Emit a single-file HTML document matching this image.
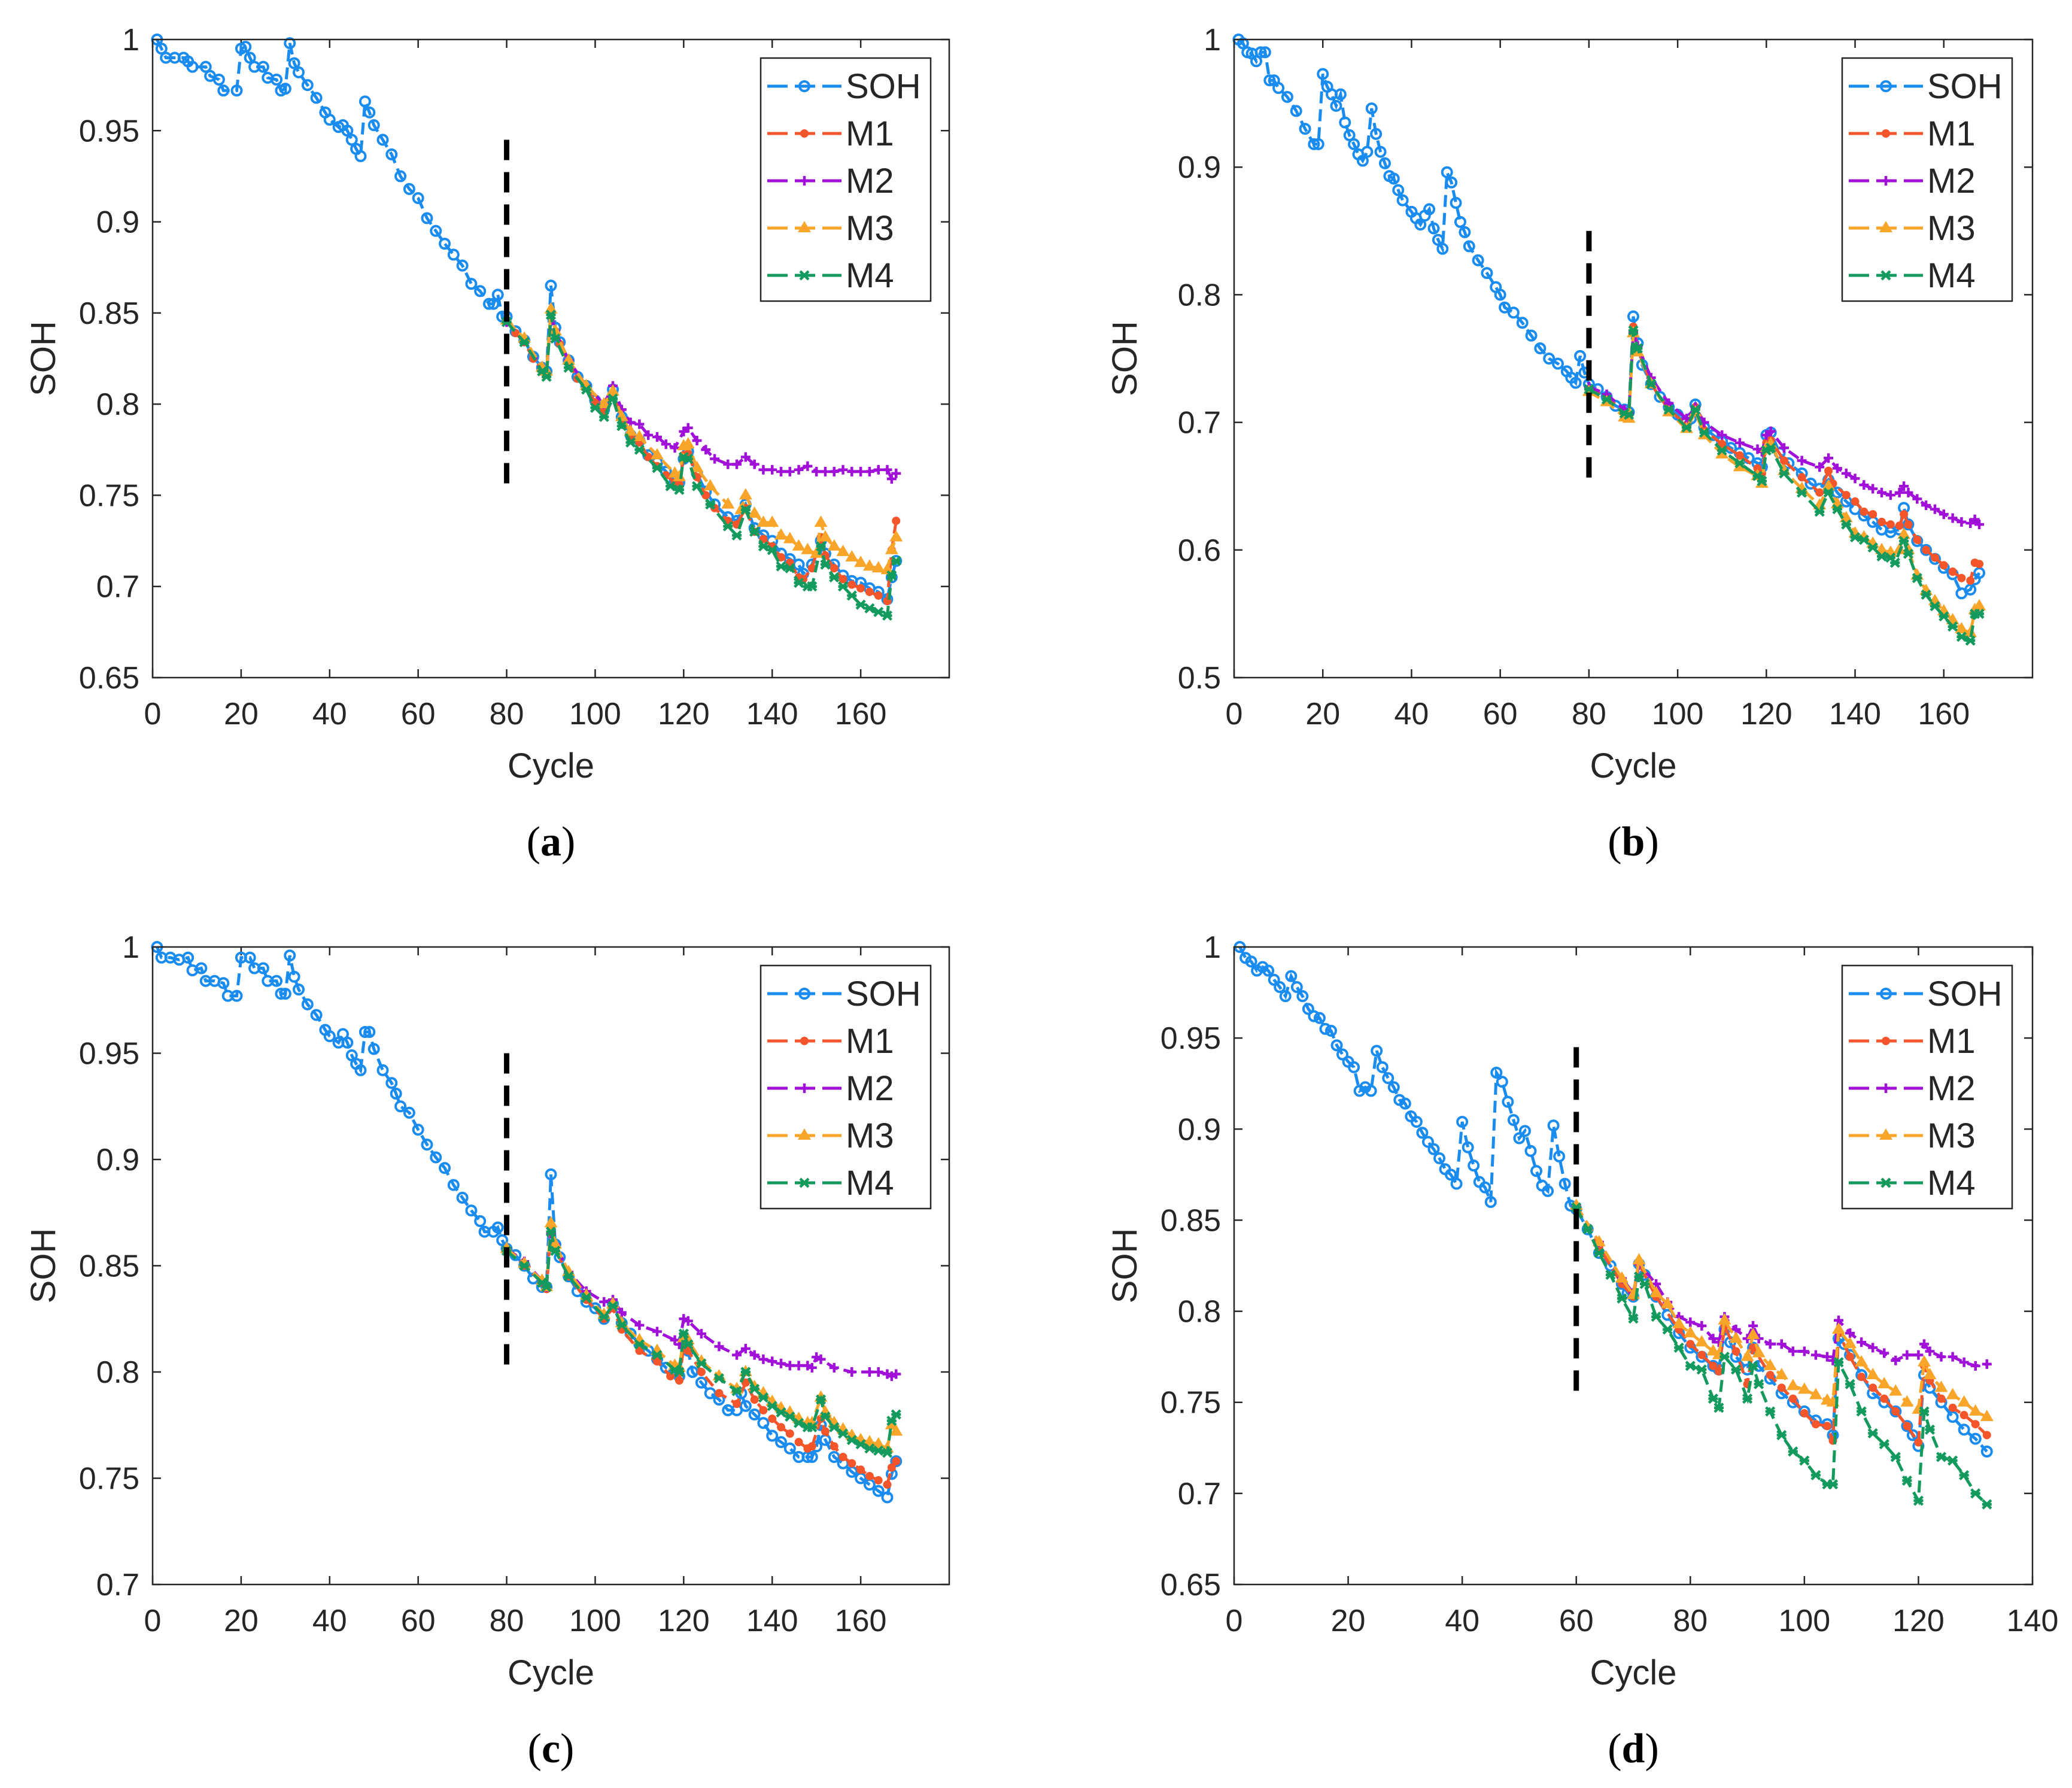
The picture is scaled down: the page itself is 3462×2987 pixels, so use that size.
<!DOCTYPE html>
<html><head><meta charset="utf-8"><style>
html,body{margin:0;padding:0;background:#fff;}
svg{display:block;}
text{font-family:"Liberation Sans",sans-serif;fill:#262626;}
text.cap{font-family:"Liberation Serif",serif;fill:#000;}
</style></head><body>
<svg id="fig" xmlns="http://www.w3.org/2000/svg" width="3462" height="2987" viewBox="0 0 3462 2987"></svg>
<script>
// ---- Panel (a) data ----
const aSOH=[[1,1.0],[2,.995],[3,.99],[5,.99],[7,.99],[8,.988],[9,.985],[12,.985],[13,.98],[15,.978],[16,.972],[19,.972],[20,.995],[21,.996],[22,.99],[23,.985],[25,.985],[26,.979],[28,.978],[29,.972],[30,.973],[31,.998],[32,.987],[33,.982],[35,.975],[37,.968],[39,.96],[40,.956],[42,.952],[43,.953],[44,.95],[45,.945],[46,.94],[47,.936],[48,.966],[49,.96],[50,.953],[52,.945],[54,.937],[56,.925],[58,.918],[60,.913],[62,.902],[64,.895],[66,.888],[68,.882],[70,.876],[72,.866],[74,.862],[76,.855],[77,.855],[78,.86],[79,.848],[80,.848],[82,.84],[84,.835],[86,.826],[88,.82],[89,.818],[90,.865],[91,.842],[92,.834],[94,.824],[96,.815],[98,.81],[100,.802],[102,.797],[104,.808],[106,.793],[108,.783],[110,.78],[112,.772],[114,.768],[116,.763],[118,.758],[119,.757],[120,.77],[121,.774],[123,.762],[125,.752],[127,.745],[130,.738],[132,.736],[134,.745],[136,.732],[138,.728],[140,.725],[142,.718],[144,.715],[146,.712],[147,.707],[149,.712],[151,.725],[152,.718],[154,.712],[156,.706],[158,.703],[160,.702],[162,.699],[164,.697],[166,.693],[167,.705],[168,.714]];
const aM1=[[80,.846],[82,.839],[84,.834],[86,.825],[88,.819],[89,.817],[90,.85],[91,.84],[92,.833],[94,.823],[96,.814],[98,.809],[100,.801],[102,.796],[104,.806],[106,.792],[108,.782],[110,.779],[112,.771],[114,.766],[116,.761],[118,.757],[119,.756],[120,.772],[121,.773],[123,.76],[125,.75],[127,.743],[130,.736],[132,.734],[134,.743],[136,.73],[138,.726],[140,.722],[142,.716],[144,.713],[146,.705],[147,.704],[149,.71],[151,.727],[152,.717],[154,.71],[156,.704],[158,.701],[160,.699],[162,.697],[164,.695],[166,.692],[167,.72],[168,.736]];
const aM2=[[80,.845],[84,.835],[88,.82],[89,.817],[90,.85],[91,.84],[94,.824],[98,.81],[102,.8],[104,.81],[106,.797],[108,.79],[110,.789],[112,.783],[114,.782],[116,.778],[118,.776],[120,.785],[121,.787],[123,.78],[125,.775],[127,.77],[130,.767],[132,.767],[134,.771],[136,.767],[138,.764],[140,.764],[142,.763],[144,.763],[146,.764],[148,.766],[150,.763],[152,.763],[154,.763],[156,.764],[158,.763],[160,.763],[162,.763],[164,.764],[166,.764],[167,.759],[168,.762]];
const aM3=[[80,.846],[84,.836],[88,.82],[89,.818],[90,.852],[91,.84],[94,.824],[98,.81],[102,.8],[104,.807],[106,.793],[108,.785],[110,.782],[114,.772],[118,.762],[119,.76],[120,.777],[121,.778],[123,.765],[126,.755],[130,.745],[133,.742],[134,.75],[136,.74],[138,.735],[140,.735],[142,.728],[144,.726],[146,.722],[148,.72],[150,.718],[151,.735],[152,.727],[154,.722],[156,.719],[158,.716],[160,.713],[162,.711],[164,.71],[166,.709],[167,.72],[168,.727]];
const aM4=[[80,.845],[84,.834],[88,.818],[89,.815],[90,.849],[91,.836],[94,.82],[98,.808],[100,.798],[102,.793],[104,.803],[106,.788],[108,.779],[110,.775],[114,.765],[117,.755],[119,.753],[120,.771],[121,.77],[123,.755],[126,.745],[130,.733],[132,.728],[134,.742],[136,.73],[138,.722],[140,.72],[142,.711],[144,.71],[146,.702],[148,.7],[149,.7],[151,.722],[152,.712],[154,.705],[156,.7],[158,.695],[160,.69],[162,.688],[164,.686],[166,.684],[167,.706],[168,.714]];
// ---- Panel (b) data ----
const bSOH=[[1,1.0],[2,.997],[3,.99],[4,.989],[5,.983],[6,.99],[7,.99],[8,.968],[9,.968],[10,.962],[12,.955],[14,.944],[16,.93],[18,.918],[19,.918],[20,.973],[21,.963],[22,.957],[23,.948],[24,.957],[25,.935],[26,.925],[27,.918],[28,.91],[29,.905],[30,.912],[31,.946],[32,.926],[33,.912],[34,.903],[35,.893],[36,.891],[37,.882],[38,.874],[40,.865],[41,.86],[42,.855],[43,.862],[44,.867],[45,.852],[46,.843],[47,.836],[48,.896],[49,.888],[50,.872],[51,.857],[52,.849],[53,.838],[55,.827],[57,.817],[59,.806],[60,.8],[61,.79],[63,.786],[65,.778],[67,.768],[69,.758],[71,.75],[73,.746],[75,.74],[76,.735],[77,.731],[78,.752],[79,.739],[80,.73],[82,.726],[84,.72],[86,.713],[88,.71],[89,.708],[90,.783],[91,.762],[92,.745],[94,.73],[96,.72],[98,.712],[100,.706],[102,.7],[103,.703],[104,.714],[106,.696],[108,.69],[110,.685],[112,.68],[114,.676],[116,.672],[118,.668],[119,.665],[120,.69],[121,.692],[123,.676],[125,.668],[128,.66],[130,.652],[132,.648],[134,.655],[136,.645],[138,.638],[140,.632],[142,.627],[144,.622],[146,.616],[148,.614],[150,.616],[151,.633],[152,.62],[154,.607],[156,.6],[158,.593],[160,.586],[162,.581],[164,.566],[166,.569],[167,.577],[168,.582]];
const bM1=[[80,.726],[84,.72],[88,.708],[89,.706],[90,.775],[91,.758],[94,.73],[98,.71],[102,.698],[104,.712],[106,.694],[110,.683],[114,.674],[118,.664],[119,.66],[120,.684],[121,.686],[124,.67],[128,.657],[132,.645],[134,.662],[135,.652],[138,.643],[140,.638],[142,.63],[144,.628],[146,.622],[148,.62],[150,.619],[151,.628],[152,.62],[154,.608],[156,.6],[158,.594],[160,.588],[162,.583],[164,.578],[166,.576],[167,.59],[168,.589]];
const bM2=[[80,.728],[84,.722],[88,.71],[89,.708],[90,.77],[91,.76],[94,.735],[98,.715],[102,.703],[104,.712],[106,.7],[110,.69],[114,.684],[118,.679],[119,.677],[120,.69],[121,.693],[124,.68],[128,.67],[132,.665],[134,.672],[136,.664],[138,.66],[140,.656],[142,.651],[144,.648],[146,.645],[148,.643],[150,.645],[151,.65],[152,.645],[154,.64],[156,.635],[158,.632],[160,.628],[162,.625],[164,.622],[166,.621],[167,.624],[168,.62]];
const bM3=[[80,.724],[84,.716],[88,.704],[89,.703],[90,.77],[91,.755],[94,.73],[98,.708],[102,.695],[104,.708],[106,.69],[110,.675],[114,.665],[118,.658],[119,.652],[120,.68],[121,.683],[124,.662],[128,.648],[132,.635],[134,.65],[136,.636],[138,.625],[140,.613],[142,.61],[144,.605],[146,.6],[148,.598],[150,.6],[151,.612],[152,.6],[154,.58],[156,.568],[158,.56],[160,.552],[162,.545],[164,.538],[166,.535],[167,.553],[168,.556]];
const bM4=[[80,.726],[84,.718],[88,.707],[89,.706],[90,.772],[91,.758],[94,.73],[98,.71],[102,.696],[104,.71],[106,.692],[110,.678],[114,.668],[118,.658],[119,.654],[120,.678],[121,.68],[124,.66],[128,.645],[132,.63],[134,.645],[136,.632],[138,.62],[140,.61],[142,.608],[144,.602],[146,.595],[148,.594],[149,.59],[151,.607],[152,.597],[154,.578],[156,.565],[158,.556],[160,.548],[162,.54],[164,.532],[166,.529],[167,.55],[168,.55]];
// ---- Panel (c) data ----
const cSOH=[[1,1.0],[2,.995],[4,.995],[6,.994],[8,.995],[9,.989],[11,.99],[12,.984],[14,.984],[16,.983],[17,.977],[19,.977],[20,.995],[22,.995],[23,.99],[25,.99],[26,.984],[28,.984],[29,.978],[30,.978],[31,.996],[32,.986],[33,.98],[35,.973],[37,.968],[39,.961],[40,.958],[42,.955],[43,.959],[44,.955],[45,.949],[46,.945],[47,.942],[48,.96],[49,.96],[50,.952],[52,.942],[54,.936],[55,.931],[56,.925],[58,.922],[60,.914],[62,.907],[64,.901],[66,.896],[68,.888],[70,.882],[72,.876],[74,.871],[75,.866],[77,.866],[78,.868],[79,.862],[80,.858],[82,.855],[84,.85],[86,.844],[88,.84],[89,.84],[90,.893],[91,.86],[92,.854],[94,.845],[96,.838],[98,.833],[100,.83],[102,.825],[104,.832],[106,.823],[108,.818],[110,.813],[112,.81],[114,.806],[116,.802],[118,.8],[119,.798],[120,.815],[121,.81],[122,.8],[124,.795],[126,.79],[128,.787],[130,.782],[132,.782],[133,.79],[134,.784],[136,.78],[138,.776],[140,.77],[142,.767],[144,.764],[146,.76],[148,.76],[149,.76],[150,.765],[151,.775],[152,.768],[154,.76],[156,.757],[158,.753],[160,.75],[162,.747],[164,.744],[166,.741],[167,.752],[168,.758]];
const cM1=[[80,.858],[84,.85],[88,.842],[89,.839],[90,.868],[91,.858],[94,.845],[98,.834],[102,.825],[104,.83],[106,.82],[110,.81],[114,.805],[117,.798],[119,.796],[120,.812],[121,.81],[124,.8],[128,.79],[132,.785],[134,.795],[136,.787],[138,.782],[140,.778],[142,.774],[144,.771],[146,.767],[148,.764],[149,.765],[151,.778],[152,.772],[154,.765],[156,.76],[158,.757],[160,.754],[162,.751],[164,.749],[166,.747],[167,.755],[168,.758]];
const cM2=[[80,.858],[84,.852],[88,.843],[89,.84],[90,.865],[91,.86],[94,.847],[98,.838],[102,.833],[104,.834],[106,.828],[110,.822],[114,.819],[118,.815],[119,.813],[120,.825],[121,.824],[124,.818],[128,.812],[132,.808],[134,.811],[136,.808],[138,.806],[140,.805],[142,.804],[144,.803],[146,.803],[148,.803],[149,.802],[150,.807],[151,.806],[154,.802],[158,.8],[162,.8],[164,.8],[166,.799],[167,.798],[168,.799]];
const cM3=[[80,.858],[84,.851],[88,.843],[89,.84],[90,.87],[91,.86],[94,.847],[98,.836],[102,.827],[104,.832],[106,.823],[110,.815],[114,.81],[118,.803],[119,.802],[120,.816],[121,.815],[124,.805],[128,.798],[132,.792],[134,.8],[136,.793],[138,.79],[140,.786],[142,.783],[144,.781],[146,.778],[148,.776],[149,.776],[151,.788],[152,.781],[154,.776],[156,.773],[158,.77],[160,.768],[162,.767],[164,.766],[166,.764],[167,.775],[168,.772]];
const cM4=[[80,.857],[84,.85],[88,.842],[89,.84],[90,.866],[91,.857],[94,.845],[98,.835],[102,.826],[104,.831],[106,.822],[110,.813],[114,.808],[118,.801],[119,.8],[120,.818],[121,.813],[124,.804],[128,.797],[132,.791],[134,.8],[136,.792],[138,.788],[140,.784],[142,.781],[144,.779],[146,.776],[148,.774],[149,.774],[151,.787],[152,.779],[154,.774],[156,.771],[158,.768],[160,.766],[162,.764],[164,.763],[166,.762],[167,.777],[168,.78]];
// ---- Panel (d) data ----
const dSOH=[[1,1.0],[2,.994],[3,.992],[4,.987],[5,.989],[6,.987],[7,.982],[8,.978],[9,.973],[10,.984],[11,.978],[12,.973],[13,.966],[14,.962],[15,.961],[16,.955],[17,.954],[18,.946],[19,.941],[20,.937],[21,.934],[22,.921],[23,.923],[24,.921],[25,.943],[26,.934],[27,.928],[28,.923],[29,.916],[30,.914],[31,.907],[32,.904],[33,.898],[34,.893],[35,.889],[36,.884],[37,.878],[38,.875],[39,.87],[40,.904],[41,.89],[42,.88],[43,.871],[44,.868],[45,.86],[46,.931],[47,.926],[48,.915],[49,.905],[50,.895],[51,.899],[52,.888],[53,.877],[54,.869],[55,.866],[56,.902],[57,.885],[58,.87],[59,.858],[60,.856],[62,.845],[64,.832],[66,.825],[68,.815],[69,.81],[70,.808],[71,.826],[72,.82],[74,.808],[76,.798],[78,.788],[80,.78],[82,.775],[84,.77],[85,.768],[86,.79],[87,.783],[88,.775],[90,.768],[91,.78],[92,.77],[94,.763],[96,.755],[98,.75],[100,.745],[102,.74],[104,.738],[105,.732],[106,.785],[107,.782],[108,.776],[110,.765],[112,.755],[114,.75],[116,.745],[118,.737],[119,.732],[120,.726],[121,.765],[122,.758],[124,.75],[126,.742],[128,.735],[130,.73],[132,.723]];
const dM1=[[60,.857],[64,.835],[68,.815],[70,.808],[71,.826],[74,.808],[78,.79],[80,.782],[82,.776],[84,.77],[85,.767],[86,.792],[88,.778],[90,.76],[91,.78],[94,.765],[96,.758],[98,.752],[100,.744],[102,.738],[104,.737],[105,.729],[106,.788],[108,.775],[110,.764],[112,.758],[114,.752],[116,.745],[118,.737],[120,.728],[121,.77],[122,.762],[124,.752],[126,.747],[128,.743],[130,.738],[132,.732]];
const dM2=[[60,.858],[64,.838],[68,.818],[70,.81],[71,.826],[74,.815],[76,.805],[78,.797],[80,.794],[82,.792],[84,.785],[85,.783],[86,.797],[88,.79],[90,.785],[91,.792],[92,.785],[94,.782],[96,.782],[98,.778],[100,.778],[102,.776],[104,.775],[105,.773],[106,.795],[108,.788],[110,.783],[112,.78],[114,.777],[116,.773],[118,.776],[120,.776],[121,.782],[122,.778],[124,.775],[126,.775],[128,.772],[130,.77],[132,.771]];
const dM3=[[60,.858],[64,.838],[68,.818],[70,.809],[71,.828],[74,.81],[76,.804],[78,.793],[80,.788],[82,.783],[84,.778],[85,.776],[86,.795],[88,.785],[90,.775],[91,.787],[92,.777],[94,.77],[96,.765],[98,.759],[100,.757],[102,.754],[104,.751],[105,.75],[106,.79],[108,.782],[110,.772],[112,.765],[114,.76],[116,.756],[118,.75],[120,.746],[121,.772],[122,.765],[124,.758],[126,.754],[128,.75],[130,.745],[132,.742]];
const dM4=[[60,.857],[62,.845],[64,.832],[66,.82],[68,.807],[70,.796],[71,.819],[72,.815],[74,.797],[76,.79],[78,.78],[80,.77],[82,.768],[84,.752],[85,.747],[86,.775],[88,.768],[90,.752],[91,.77],[92,.76],[94,.745],[96,.732],[98,.723],[100,.718],[102,.71],[104,.705],[105,.705],[106,.772],[108,.76],[110,.745],[112,.733],[114,.727],[116,.72],[118,.707],[120,.696],[121,.745],[122,.735],[124,.72],[126,.718],[128,.71],[130,.7],[132,.694]];
// ---- Tick labels ----
const xTicks180=[0,20,40,60,80,100,120,140,160];
const xTicks140=[0,20,40,60,80,100,120,140];
const yTicksA=[0.65,0.7,0.75,0.8,0.85,0.9,0.95,1];
const yTicksB=[0.5,0.6,0.7,0.8,0.9,1];
const yTicksC=[0.7,0.75,0.8,0.85,0.9,0.95,1];
const seriesNames=["SOH","M1","M2","M3","M4"];

const NS="http://www.w3.org/2000/svg";
const svg=document.getElementById('fig');
function mk(tag,attrs,parent){const e=document.createElementNS(NS,tag);for(const k in attrs)e.setAttribute(k,attrs[k]);(parent||svg).appendChild(e);return e;}
const colors=["#1a8cf0","#f5552a","#a010d8","#f9a52a","#149a5c"];
const panels=[
 {id:'a',ox:255,oy:66,w:1331,h:1066,xmax:180,xt:xTicks180,ymin:.65,ymax:1,yt:yTicksA,vx:80,vy0:.945,vy1:.75,data:[aSOH,aM1,aM2,aM3,aM4]},
 {id:'b',ox:2062,oy:66,w:1334,h:1066,xmax:180,xt:xTicks180,ymin:.5,ymax:1,yt:yTicksB,vx:80,vy0:.85,vy1:.65,data:[bSOH,bM1,bM2,bM3,bM4]},
 {id:'c',ox:255,oy:1582,w:1331,h:1065,xmax:180,xt:xTicks180,ymin:.7,ymax:1,yt:yTicksC,vx:80,vy0:.95,vy1:.80,data:[cSOH,cM1,cM2,cM3,cM4]},
 {id:'d',ox:2062,oy:1582,w:1334,h:1065,xmax:140,xt:xTicks140,ymin:.65,ymax:1,yt:yTicksA,vx:60,vy0:.945,vy1:.75,data:[dSOH,dM1,dM2,dM3,dM4]}
];
function marker(g,k,x,y,c){
  let m;
  if(k===0){m=mk('circle',{cx:x,cy:y,r:8,fill:'none',stroke:c,'stroke-width':4},g);}
  else if(k===1){m=mk('circle',{cx:x,cy:y,r:7,fill:c},g);}
  else if(k===2){m=mk('path',{d:`M${x-8},${y}H${x+8}M${x},${y-8}V${y+8}`,stroke:c,'stroke-width':4.5,fill:'none'},g);}
  else if(k===3){m=mk('path',{d:`M${x},${y-12}L${x+11},${y+7}L${x-11},${y+7}Z`,fill:c},g);}
  else {m=mk('path',{d:`M${x-7},${y-7}L${x+7},${y+7}M${x+7},${y-7}L${x-7},${y+7}M${x-8},${y}H${x+8}`,stroke:c,'stroke-width':4.5,fill:'none'},g);}
  return m;
}
panels.forEach(p=>{
  const sx=v=>p.ox+v/p.xmax*p.w;
  const sy=v=>p.oy+p.h-(v-p.ymin)/(p.ymax-p.ymin)*p.h;
  const g=mk('g',{});
  
  
  mk('rect',{x:p.ox,y:p.oy,width:p.w,height:p.h,fill:'#fff'},g);
  p.xt.forEach(t=>{
    const x=sx(t);
    const tk=mk('path',{d:`M${x},${p.oy+p.h}v-14M${x},${p.oy}v14`,stroke:'#262626','stroke-width':2.5},g);
    
    
    const tl=mk('text',{x:x,y:p.oy+p.h+78,'font-size':52,'text-anchor':'middle'},g);
    tl.textContent=String(t);
    
    
  });
  p.yt.forEach(t=>{
    const y=sy(t);
    const tk=mk('path',{d:`M${p.ox},${y}h14M${p.ox+p.w},${y}h-14`,stroke:'#262626','stroke-width':2.5},g);
    
    
    const tl=mk('text',{x:p.ox-22,y:y+18,'font-size':52,'text-anchor':'end'},g);
    tl.textContent=String(t);
    
    
  });
  p.data.forEach((arr,k)=>{
    const sg=mk('g',{},g);
    
    
    const d=arr.map((pt,i)=>(i?'L':'M')+sx(pt[0]).toFixed(1)+','+sy(pt[1]).toFixed(1)).join('');
    mk('path',{d:d,fill:'none',stroke:colors[k],'stroke-width':5,'stroke-dasharray':'20 10'},sg);
    arr.forEach(pt=>{const m=marker(sg,k,sx(pt[0]),sy(pt[1]),colors[k]);
      
      });
  });
  const vl=mk('line',{x1:sx(p.vx),x2:sx(p.vx),y1:sy(p.vy0),y2:sy(p.vy1),stroke:'#000','stroke-width':9,'stroke-dasharray':'34 20'},g);
  
  
  const bx=mk('rect',{x:p.ox,y:p.oy,width:p.w,height:p.h,fill:'none',stroke:'#262626','stroke-width':2.5},g);
  
  
  const yl=mk('text',{x:0,y:0,'font-size':58,'text-anchor':'middle',transform:`translate(${p.ox-163},${p.oy+p.h/2}) rotate(-90)`},g);
  yl.textContent='SOH';
  
  
  const xl=mk('text',{x:p.ox+p.w/2,y:p.oy+p.h+167,'font-size':58,'text-anchor':'middle'},g);
  xl.textContent='Cycle';
  
  
  const cap=mk('text',{x:p.ox+p.w/2,y:p.oy+p.h+297,'font-size':70,'text-anchor':'middle','class':'cap'},g);
  cap.innerHTML='(<tspan font-weight="bold">'+p.id+'</tspan>)';
  
  
  const lx=p.ox+1016, ly=p.oy+31;
  const lg=mk('g',{},g);
  
  
  mk('rect',{x:lx,y:ly,width:284,height:406,fill:'#fff',stroke:'#262626','stroke-width':2.5},lg);
  seriesNames.forEach((n,k)=>{
    const ey=ly+47+k*79;
    const eg=mk('g',{},lg);
    
    
    mk('line',{x1:lx+11,x2:lx+135,y1:ey,y2:ey,stroke:colors[k],'stroke-width':5,'stroke-dasharray':'34 12'},eg);
    marker(eg,k,lx+73,ey,colors[k]);
    const t=mk('text',{x:lx+142,y:ey+20,'font-size':58},eg);
    t.textContent=n;
  });
});
</script>
</body></html>
